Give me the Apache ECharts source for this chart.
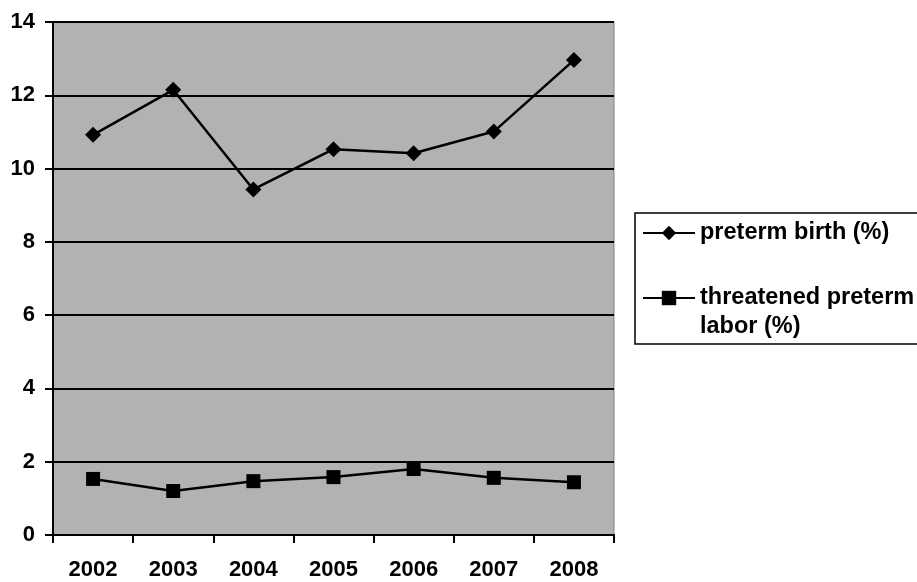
<!DOCTYPE html>
<html>
<head>
<meta charset="utf-8">
<script src="https://cdn.jsdelivr.net/npm/echarts@6/dist/echarts.min.js"></script>
<style>html,body{margin:0;padding:0;background:#fff}#c{width:917px;height:582px}</style>
</head>
<body>
<div id="c"></div>
<script>
const categories = ['2002', '2003', '2004', '2005', '2006', '2007', '2008'];
const pretermBirth = [10.92, 12.15, 9.43, 10.53, 10.42, 11.01, 12.96];
const threatenedLabor = [1.53, 1.20, 1.47, 1.58, 1.80, 1.56, 1.44];
const yTicks = [0, 2, 4, 6, 8, 10, 12, 14];
const seriesNames = ['preterm birth (%)', 'threatened preterm labor (%)'];
const legendLabels = ['preterm birth (%)', '\nthreatened preterm\nlabor (%)'];

const chart = echarts.init(document.getElementById('c'), null, {renderer: 'canvas'});
const font = 'Liberation Sans, Arial, sans-serif';
chart.setOption({
  animation: false,
  backgroundColor: '#ffffff',
  grid: {
    left: 53, top: 22, right: 303, bottom: 47,
    show: true, backgroundColor: '#b2b2b2', borderColor: '#808080', borderWidth: 1
  },
  legend: {
    orient: 'vertical',
    left: 635, top: 213,
    padding: [5.5, 6, 2.5, 7],
    itemWidth: 52, itemHeight: 18,
    itemGap: 7,
    backgroundColor: '#ffffff',
    borderColor: '#000000', borderWidth: 1.5,
    lineStyle: {width: 2, color: '#000'},
    formatter: function (name) { return legendLabels[seriesNames.indexOf(name)]; },
    textStyle: {fontFamily: font, fontWeight: 'bold', fontSize: 23.5, color: '#000', lineHeight: 29},
    data: seriesNames
  },
  xAxis: {
    type: 'category',
    data: categories,
    boundaryGap: true,
    axisLine: {lineStyle: {color: '#000', width: 2}},
    axisTick: {show: true, length: 8, lineStyle: {color: '#000', width: 2}},
    axisLabel: {fontFamily: font, fontWeight: 'bold', fontSize: 22, color: '#000', margin: 24},
    splitLine: {show: false}
  },
  yAxis: {
    type: 'value',
    min: yTicks[0], max: yTicks[yTicks.length - 1], interval: 2,
    axisLine: {show: true, lineStyle: {color: '#000', width: 2}},
    axisTick: {show: true, length: 8, lineStyle: {color: '#000', width: 2}},
    axisLabel: {fontFamily: font, fontWeight: 'bold', fontSize: 22, color: '#000', margin: 18},
    splitLine: {show: true, lineStyle: {color: '#000', width: 2}}
  },
  series: [
    {
      name: seriesNames[0], type: 'line', data: pretermBirth,
      symbol: 'diamond', symbolSize: 16,
      lineStyle: {color: '#000', width: 2.5},
      itemStyle: {color: '#000'}
    },
    {
      name: seriesNames[1], type: 'line', data: threatenedLabor,
      symbol: 'rect', symbolSize: 14,
      lineStyle: {color: '#000', width: 2.5},
      itemStyle: {color: '#000'}
    }
  ]
});
</script>
</body>
</html>
